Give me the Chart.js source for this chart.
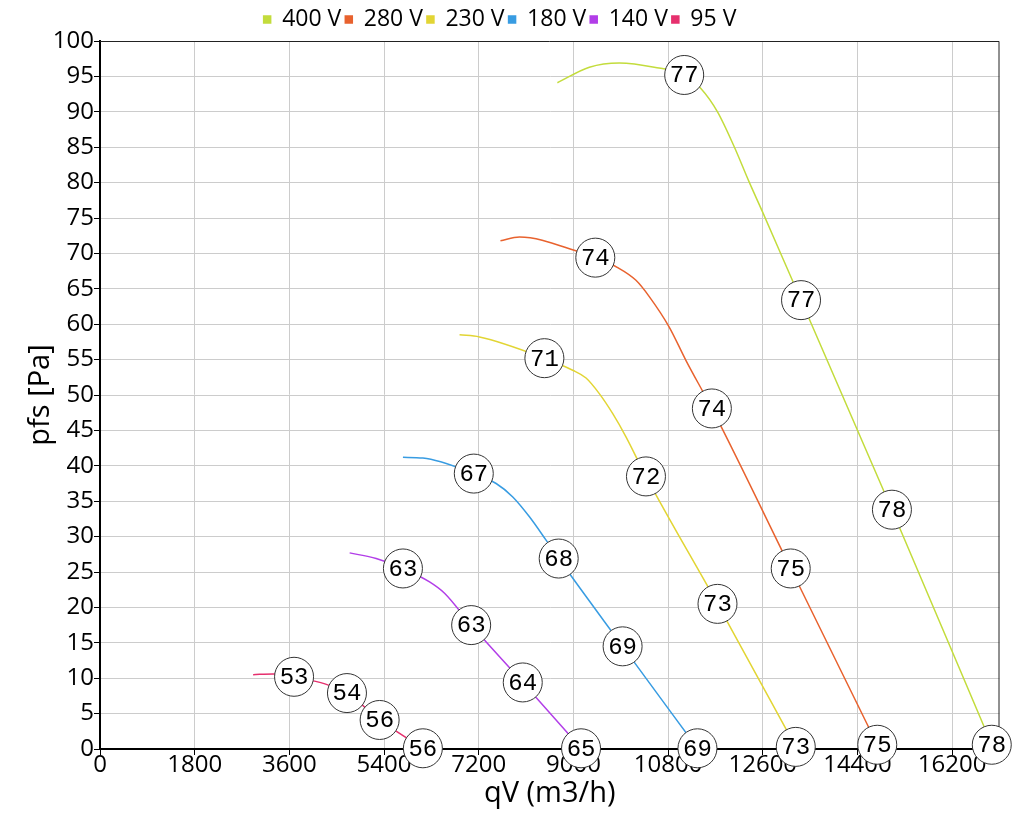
<!DOCTYPE html>
<html>
<head>
<meta charset="utf-8">
<script src="https://cdn.jsdelivr.net/npm/chart.js@4"></script>
<style>
  html, body { margin: 0; padding: 0; background: #fff; }
  #wrap { width: 1020px; height: 820px; }
</style>
</head>
<body>
<div id="wrap"><canvas id="c" width="1020" height="820"></canvas></div>
<script>
// ---- data ----
const seriesNames = ['400 V', '280 V', '230 V', '180 V', '140 V', '95 V'];
const seriesColors = ['#c3dc3c', '#e8622e', '#e2d534', '#389ce2', '#b23ee8', '#e6306e'];
const xTicks = [0, 1800, 3600, 5400, 7200, 9000, 10800, 12600, 14400, 16200];
const xMax = 17100;
const yTickStep = 5;
const yMax = 100;

// curve points (qV, pfs) without labelled points
const q400 = [8695, 9303, 9872, 10537, 11423, 11739, 12055, 12340, 12593, 13162];
const p400 = [94.1, 96.3, 96.9, 96.3, 93.3, 90.0, 85.1, 80.1, 75.9, 66.2];
const q280 = [7613, 7974, 9113, 9841, 10189, 10442, 10821, 11138];
const p280 = [71.8, 72.3, 70.2, 68.0, 66.2, 63.9, 59.6, 54.9];
const q230 = [6835, 7214, 8986, 9240, 9492, 9745, 9999];
const p230 = [58.5, 58.2, 53.5, 52.4, 50.2, 47.4, 44.1];
const q180 = [5759, 6138, 7531, 7847, 8164, 8480];
const p180 = [41.2, 41.1, 37.5, 35.6, 32.8, 29.5];
const q140 = [4746, 5250, 6265, 6550];
const p140 = [27.7, 26.9, 23.6, 22.0];
const q95 = [2911, 3290];
const p95 = [10.5, 10.6];

// labelled points (qV, pfs, value)
const lq400 = [11106, 13327, 15055, 16953];
const lp400 = [95.2, 63.4, 33.8, 0.6];
const lt400 = ['77', '77', '78', '78'];
const lq280 = [9416, 11632, 13131, 14776];
const lp280 = [69.4, 48.1, 25.5, 0.6];
const lt280 = ['74', '74', '75', '75'];
const lq230 = [8448, 10379, 11739, 13227];
const lp230 = [55.2, 38.5, 20.5, 0.3];
const lt230 = ['71', '72', '73', '73'];
const lq180 = [7106, 8720, 9935, 11358];
const lp180 = [38.9, 26.9, 14.5, 0.1];
const lt180 = ['67', '68', '69', '69'];
const lq140 = [5759, 7056, 8037, 9145];
const lp140 = [25.5, 17.5, 9.4, 0.1];
const lt140 = ['63', '63', '64', '65'];
const lq95 = [3689, 4695, 5316, 6138];
const lp95 = [10.2, 7.9, 4.1, 0.1];
const lt95 = ['53', '54', '56', '56'];

const curveQ = [q400, q280, q230, q180, q140, q95];
const curveP = [p400, p280, p230, p180, p140, p95];
const labQ = [lq400, lq280, lq230, lq180, lq140, lq95];
const labP = [lp400, lp280, lp230, lp180, lp140, lp95];
const labT = [lt400, lt280, lt230, lt180, lt140, lt95];

// ---- build datasets ----
const datasets = [];
seriesNames.forEach((name, i) => {
  const pts = curveQ[i].map((q, j) => ({x: q, y: curveP[i][j]}))
    .concat(labQ[i].map((q, j) => ({x: q, y: labP[i][j]})))
    .sort((a, b) => a.x - b.x);
  datasets.push({
    label: name,
    data: pts,
    showLine: true,
    borderColor: seriesColors[i],
    backgroundColor: seriesColors[i],
    borderWidth: 1.5,
    pointRadius: 0,
    cubicInterpolationMode: 'monotone',
    order: 2
  });
});
seriesNames.forEach((name, i) => {
  datasets.push({
    label: '_lab' + i,
    isLabel: true,
    texts: labT[i],
    data: labQ[i].map((q, j) => ({x: q, y: labP[i][j]})),
    showLine: false,
    pointRadius: 19.5,
    pointHoverRadius: 19.5,
    pointBackgroundColor: '#ffffff',
    pointBorderColor: '#333333',
    pointBorderWidth: 1,
    clip: false,
    order: 1
  });
});

const frame = {
  id: 'frame',
  beforeDatasetsDraw(chart) {
    const a = chart.chartArea, ctx = chart.ctx;
    ctx.save();
    ctx.strokeStyle = '#222';
    ctx.lineWidth = 1;
    ctx.beginPath();
    ctx.moveTo(a.left, a.top + 0.5);
    ctx.lineTo(a.right - 0.5, a.top + 0.5);
    ctx.lineTo(a.right - 0.5, a.bottom);
    ctx.stroke();
    ctx.restore();
  }
};

const labelText = {
  id: 'labelText',
  afterDatasetsDraw(chart) {
    const ctx = chart.ctx;
    ctx.save();
    ctx.font = '24px "Liberation Mono"';
    ctx.fillStyle = '#000';
    ctx.textAlign = 'center';
    ctx.textBaseline = 'middle';
    chart.data.datasets.forEach((ds, i) => {
      if (!ds.isLabel) return;
      const meta = chart.getDatasetMeta(i);
      meta.data.forEach((el, j) => {
        ctx.fillText(ds.texts[j], el.x, el.y + 1);
      });
    });
    ctx.restore();
  }
};

const tickFont = {family: '"Open Sans"', size: 24};
new Chart(document.getElementById('c'), {
  type: 'scatter',
  data: {datasets},
  options: {
    responsive: false,
    animation: false,
    layout: {padding: {top: 4, right: 20, bottom: 9, left: 0}},
    plugins: {
      tooltip: {enabled: false},
      legend: {
        display: true,
        position: 'top',
        labels: {
          filter: (item) => !item.text.startsWith('_lab'),
          font: {family: '"Open Sans"', size: 23},
          color: '#000',
          boxWidth: 7,
          boxHeight: 7,
          padding: 4
        }
      }
    },
    scales: {
      x: {
        type: 'linear',
        min: 0,
        max: xMax,
        afterFit: (s) => { s.height = 62; },
        afterBuildTicks: (s) => { s.ticks = xTicks.map(v => ({value: v})); },
        ticks: {font: tickFont, color: '#000', padding: -4, maxRotation: 0, autoSkip: false,
                callback: (v) => String(v)},
        grid: {color: '#cccccc', tickColor: '#000', tickLength: 6, lineWidth: 1},
        border: {color: '#000', width: 2},
        title: {display: true, text: 'qV (m3/h)', font: {family: '"Open Sans"', size: 29}, color: '#000', padding: {top: 0, bottom: 0}}
      },
      y: {
        type: 'linear',
        min: 0,
        max: yMax,
        afterFit: (s) => { s.width = 100; },
        ticks: {stepSize: yTickStep, font: tickFont, color: '#000', padding: 0, autoSkip: false},
        grid: {color: '#cccccc', tickColor: '#000', tickLength: 6, lineWidth: 1},
        border: {color: '#000', width: 2},
        title: {display: true, text: 'pfs [Pa]', font: {family: '"Open Sans"', size: 29}, color: '#000', padding: {top: 23, bottom: 0}}
      }
    }
  },
  plugins: [frame, labelText]
});
</script>
</body>
</html>
